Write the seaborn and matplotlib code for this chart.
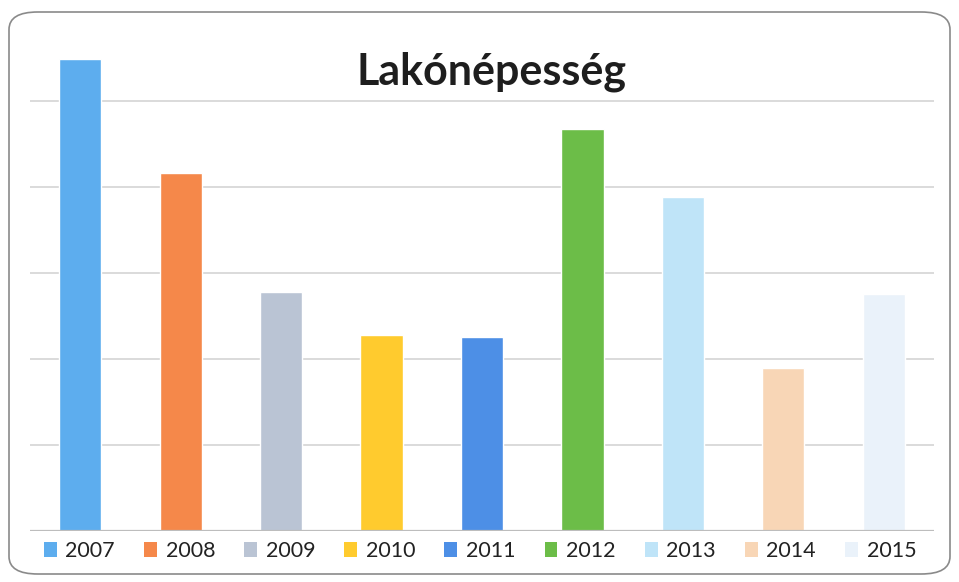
import pandas as pd
import seaborn as sns
import matplotlib.pyplot as plt
from matplotlib.patches import Patch, FancyBboxPatch

# adatok (nincs skála a képen, a rácsvonalak közti távolság = 1 egység)
evek = ['2007', '2008', '2009', '2010', '2011', '2012', '2013', '2014', '2015']
ertekek = [5.49, 4.16, 2.78, 2.28, 2.26, 4.67, 3.88, 1.90, 2.76]
szinek = ['#5DADEE', '#F5884A', '#BAC4D4', '#FFCB2E', '#4D8FE6',
          '#6CBD48', '#BFE4F8', '#F8D6B6', '#EAF2FA']

df = pd.DataFrame({'ev': evek, 'ertek': ertekek})
paletta = dict(zip(evek, szinek))

sns.set_theme(style='white')
plt.rcParams['font.family'] = ['Lato', 'DejaVu Sans']

W, H = 959, 582
fig = plt.figure(figsize=(W / 100, H / 100), dpi=100)
ax = fig.add_axes([30 / W, (H - 531) / H, 904 / W, 499 / H])

sns.barplot(data=df, x='ev', y='ertek', hue='ev', palette=paletta,
            width=0.42, legend=False, saturation=1, ax=ax, zorder=2)

ax.set_ylim(0, 5.8)
ax.set_xlim(-0.5, 8.5)
for y in [1, 2, 3, 4, 5]:
    ax.axhline(y, color='#d4d4d4', lw=1.2, zorder=1)
ax.axhline(0, color='#bdbdbd', lw=1.6, zorder=3)
ax.set_xticks([])
ax.set_yticks([])
ax.set_xlabel('')
ax.set_ylabel('')
sns.despine(ax=ax, left=True, bottom=True)
ax.patch.set_alpha(0)

fig.text(491 / W, 1 - 72 / H, 'Lakónépesség', ha='center', va='center',
         fontsize=31, fontweight='bold', color='#1e1e1e')

kezelok = [Patch(facecolor=c, edgecolor='none') for c in szinek]
fig.legend(kezelok, evek, loc='center', bbox_to_anchor=(480 / W, 1 - 551 / H),
           ncol=9, frameon=False, fontsize=15.5, handlelength=0.6, handleheight=0.75,
           handletextpad=0.4, columnspacing=1.35, borderaxespad=0,
           labelcolor='#222222')

keret = FancyBboxPatch((9 / W, 8 / H), 941 / W, 562 / H, transform=fig.transFigure,
                       boxstyle='round,pad=0,rounding_size=0.03', facecolor='none',
                       edgecolor='#8a8a8a', lw=1.2)
fig.patches.append(keret)

plt.savefig('out.png', dpi=100)
